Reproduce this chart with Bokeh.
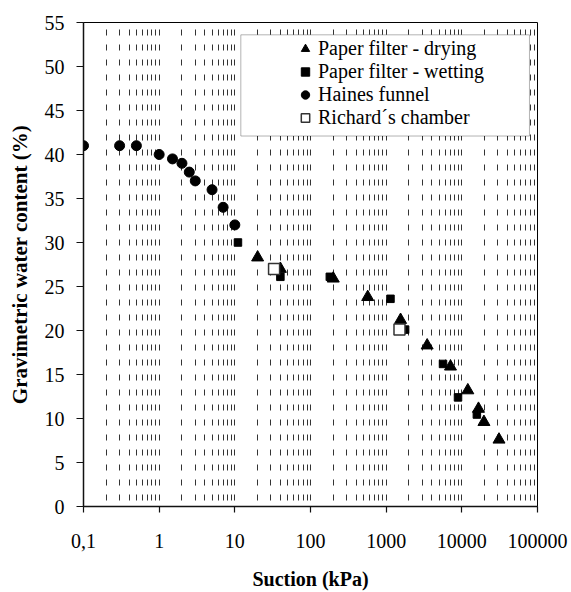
from bokeh.plotting import figure
from bokeh.models import (FixedTicker, CustomJSTickFormatter, Legend, LegendItem,
                          BoxAnnotation, Range1d)
from bokeh.embed import file_html
from bokeh.resources import INLINE

# ---- data ----
haines_x = [0.1, 0.3, 0.5, 1, 1.5, 2, 2.5, 3, 5, 7, 10]
haines_y = [41, 41, 41, 40, 39.5, 39, 38, 37, 36, 34, 32]

drying_x = [20, 40, 200, 570, 1550, 3480, 7080, 12000, 16600, 19600, 31000]
drying_y = [28.3, 27, 25.9, 23.8, 21.2, 18.3, 15.9, 13.2, 11.1, 9.6, 7.6]

wetting_x = [11, 40, 180, 1140, 1780, 5640, 8900, 15800]
wetting_y = [30, 26.1, 26.1, 23.6, 20.1, 16.2, 12.4, 10.45]

richard_x = [33, 1500]
richard_y = [27, 20.1]

x_ticks = [0.1, 1, 10, 100, 1000, 10000, 100000]
y_ticks = list(range(0, 56, 5))
decades = [-1, 0, 1, 2, 3, 4]
mantissas = [1, 2, 3, 4, 5, 6, 7, 8, 9]
grid_ticks = [m * 10 ** e for e in decades for m in mantissas] + [100000]

labels = ["Paper filter - drying", "Paper filter - wetting", "Haines funnel", "Richard\u00b4s chamber"]

FONT = "Liberation Serif"

p = figure(width=571, height=592, x_axis_type="log",
           x_range=Range1d(0.1, 100000), y_range=Range1d(0, 55),
           output_backend="svg", toolbar_location=None,
           min_border_left=83, min_border_right=34, min_border_top=22, min_border_bottom=80)

p.background_fill_color = "white"
p.border_fill_color = "white"
p.outline_line_color = "black"
p.outline_line_width = 1

# axes
p.xaxis.ticker = FixedTicker(ticks=x_ticks)
p.xaxis.formatter = CustomJSTickFormatter(
    code="return String(Math.round(tick*10)/10).replace('.', ',');")
p.yaxis.ticker = FixedTicker(ticks=y_ticks)

p.xaxis.axis_label = "Suction (kPa)"
p.yaxis.axis_label = "Gravimetric water content (%)"

for ax in (p.xaxis[0], p.yaxis[0]):
    ax.axis_line_color = "#111111"
    ax.axis_line_width = 1.5
    ax.major_tick_line_color = "#111111"
    ax.major_tick_line_width = 1.2
    ax.major_tick_in = 0
    ax.minor_tick_line_color = None
    ax.major_label_text_font = FONT
    ax.major_label_text_font_size = "20px"
    ax.major_label_text_color = "black"
    ax.axis_label_text_font = FONT
    ax.axis_label_text_font_style = "bold"
    ax.axis_label_text_color = "black"

p.xaxis.major_tick_out = 6
p.xaxis.major_label_standoff = 21
p.xaxis.axis_label_text_font_size = "20px"
p.xaxis.axis_label_standoff = 17

p.yaxis.major_tick_out = 7
p.yaxis.major_label_standoff = 12
p.yaxis.axis_label_text_font_size = "21px"
p.yaxis.axis_label_standoff = 10

# grid
p.ygrid.grid_line_color = None
p.xgrid.ticker = FixedTicker(ticks=grid_ticks)
p.xgrid.grid_line_color = "#333333"
p.xgrid.grid_line_width = 1
p.xgrid.grid_line_dash = "6 9"
p.xgrid.grid_line_dash_offset = 9

# data
r_dry = p.scatter(drying_x, drying_y, marker="triangle", size=12,
                  fill_color="black", line_color="black")
r_wet = p.scatter(wetting_x, wetting_y, marker="square", size=7.5,
                  fill_color="black", line_color="black")
r_hai = p.scatter(haines_x, haines_y, marker="circle", size=10,
                  fill_color="black", line_color="black")
r_ric = p.scatter(richard_x, richard_y, marker="square", size=11,
                  fill_color="white", line_color="#333333", line_width=1.5)

# legend frame
box = BoxAnnotation(left=12.0, right=78300, top=53.6, bottom=42.1,
                    fill_color="white", fill_alpha=1.0,
                    line_color="black", line_width=1, level="annotation")
p.add_layout(box)

legend = Legend(items=[LegendItem(label=labels[0], renderers=[r_dry]),
                       LegendItem(label=labels[1], renderers=[r_wet]),
                       LegendItem(label=labels[2], renderers=[r_hai]),
                       LegendItem(label=labels[3], renderers=[r_ric])],
                location=(210, 377))
legend.border_line_color = None
legend.background_fill_alpha = 0
legend.label_text_font = FONT
legend.label_text_font_size = "20px"
legend.label_text_color = "black"
legend.glyph_width = 24
legend.glyph_height = 21
legend.label_height = 21
legend.spacing = 0
legend.padding = 5
legend.label_standoff = 1
legend.margin = 0
p.add_layout(legend)

open("out.html", "w").write(file_html(p, INLINE))
